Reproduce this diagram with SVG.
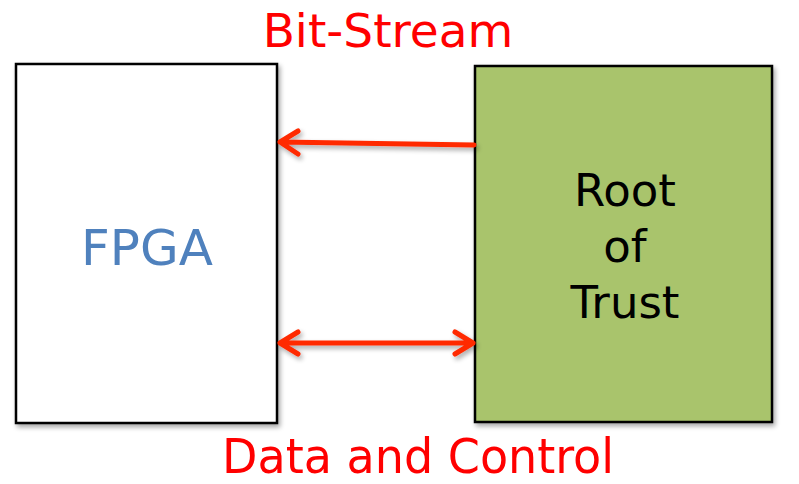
<svg xmlns="http://www.w3.org/2000/svg" width="799" height="484" viewBox="0 0 799 484">
<style>
.box{stroke:#000;stroke-width:2.5;filter:url(#sh)}
.lbl{font-family:"DejaVu Sans","Verdana",sans-serif;text-anchor:middle}
.red{fill:#FF0000}
.conn{stroke:#FF2A00;stroke-width:5;fill:none;stroke-linecap:round;stroke-linejoin:round}
</style>
<defs>
<filter id="sh" x="-10%" y="-10%" width="130%" height="130%">
<feGaussianBlur in="SourceAlpha" stdDeviation="2.5"/>
<feOffset dx="2" dy="3" result="b"/>
<feComponentTransfer><feFuncA type="linear" slope="0.35"/></feComponentTransfer>
<feMerge><feMergeNode/><feMergeNode in="SourceGraphic"/></feMerge>
</filter>
</defs>
<rect width="799" height="484" fill="#fff"/>
<g id="fpga">
<rect class="box" x="16" y="64" width="261" height="359" fill="#fff"/>
<text class="lbl" x="147" y="265" font-size="50" fill="#4F81BD">FPGA</text>
</g>
<g id="rot">
<rect class="box" x="475" y="66" width="297" height="356" fill="#A9C46C"/>
<text class="lbl" x="625" y="206" font-size="45" fill="#000">Root</text>
<text class="lbl" x="625" y="262" font-size="45" fill="#000">of</text>
<text class="lbl" x="625" y="318" font-size="45" fill="#000">Trust</text>
</g>
<g id="connectors" filter="url(#sh)">
<path class="conn" d="M474,145 L280,142 M298,131 L280,142 L298,154"/>
<path class="conn" d="M280,343 L473,343 M298,332 L280,343 L298,354 M455,332 L473,343 L455,354"/>
</g>
<text class="lbl red" x="388" y="47" font-size="47">Bit-Stream</text>
<text class="lbl red" x="418" y="473" font-size="48" textLength="392" lengthAdjust="spacingAndGlyphs" style="font-family:'DejaVu Sans Condensed','Liberation Sans Narrow',sans-serif">Data and Control</text>
</svg>
